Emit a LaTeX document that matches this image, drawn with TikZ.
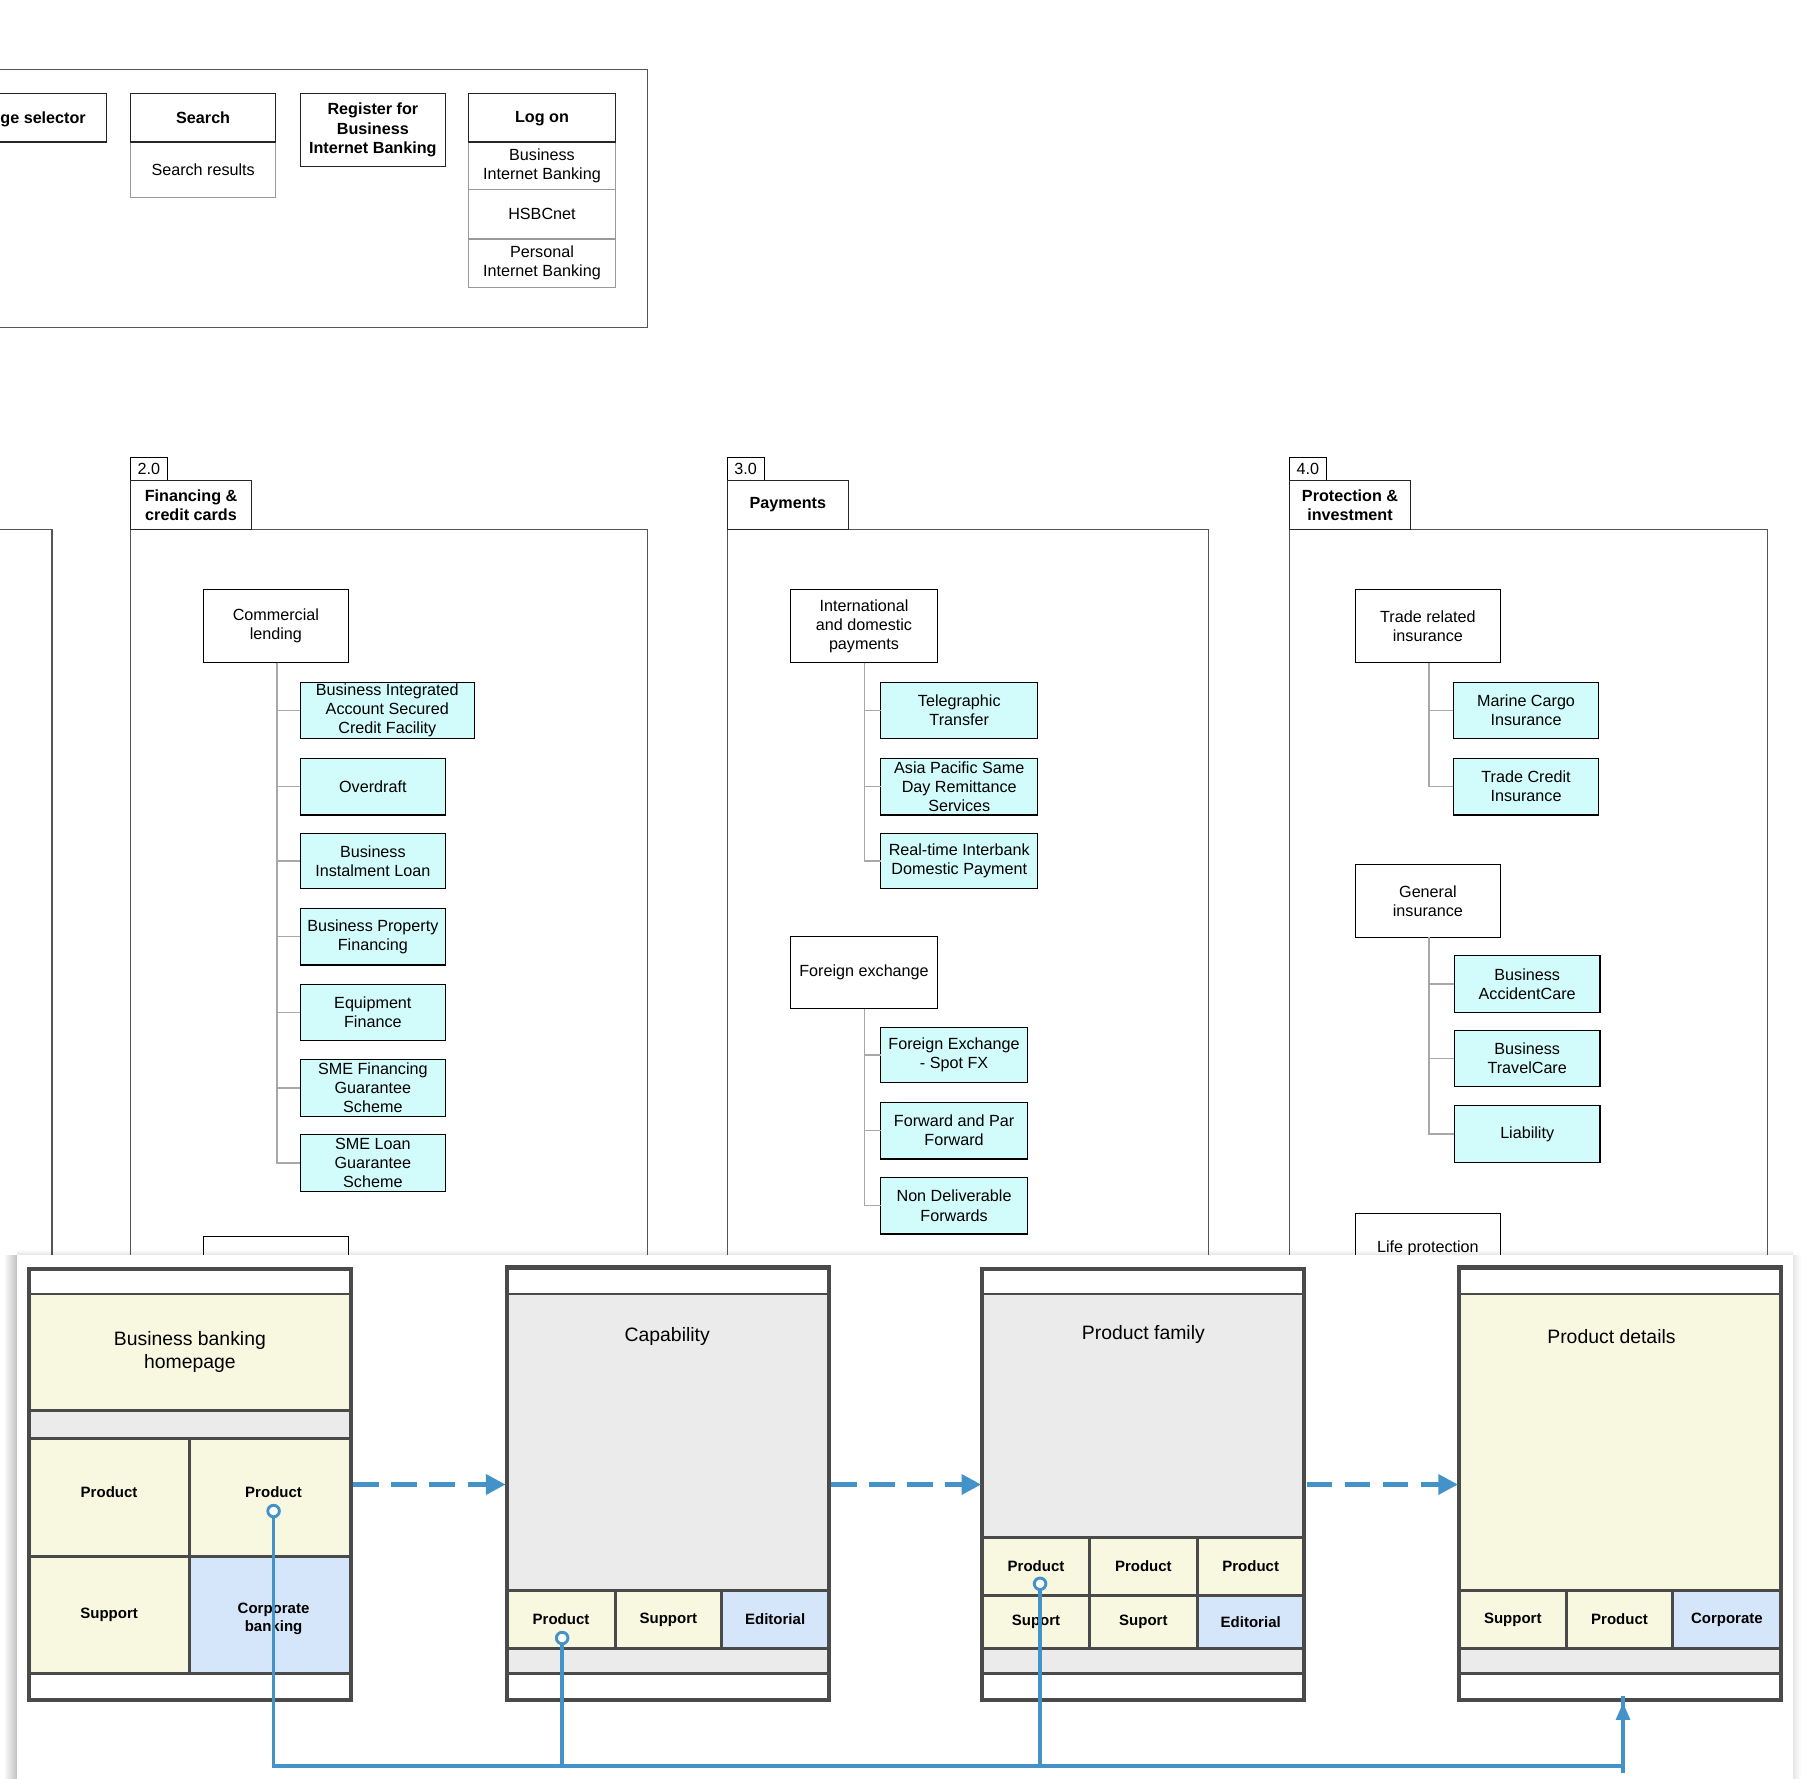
\documentclass[tikz,border=0pt]{standalone}
\usepackage{fontspec}
\setmainfont{Liberation Sans}
\usetikzlibrary{fit,arrows.meta,fadings}
\definecolor{cyanfill}{HTML}{D2FBFB}
\definecolor{yel}{HTML}{F8F8E0}
\definecolor{grayband}{HTML}{EBEBEB}
\definecolor{bluecell}{HTML}{D6E6FA}
\definecolor{connblue}{HTML}{4393C8}
\definecolor{bord}{HTML}{4A4A4A}
\definecolor{treegray}{HTML}{A8A8A8}
\definecolor{framegray}{HTML}{555555}
% name, x1, y1, x2, y2, box style, text style, text
\newcommand\mybox[8]{\node[#6, fit={(#2,#3) (#4,#5)}] (#1) {};
  \node[txt, #7] (#1t) at (#1.center) {#8};}
\begin{document}
\begin{tikzpicture}[x=1pt,y=-1pt,
 every node/.style={font=\fontsize{14}{16.5}\selectfont, text=black},
 txt/.style={inner sep=0pt, outer sep=0pt, align=center},
 fitbox/.style={inner sep=0pt, outer sep=0pt},
 tbox/.style={fitbox, draw=black, line width=1pt, fill=white},
 cbox/.style={fitbox, draw=black, line width=1pt, fill=cyanfill},
 hdr/.style={fitbox, draw=black!85, line width=1pt, fill=white},
 bold/.style={font=\fontsize{14}{16.5}\selectfont\bfseries},
 norm/.style={},
 subcell/.style={fitbox, draw=black!40, line width=1pt, fill=white},
 secframe/.style={draw=framegray, line width=1.1pt},
 treeline/.style={draw=treegray, line width=1.2pt},
 pcell/.style={fitbox, draw=bord, line width=2.5pt},
 pagebox/.style={fitbox, draw=bord, line width=3.5pt},
 lbl/.style={font=\fontsize{13}{15.5}\selectfont\bfseries},
 big/.style={font=\fontsize{16.8}{20}\selectfont},
 darrow/.style={draw=connblue, line width=4pt, dash pattern=on 22pt off 11pt, -{Triangle[length=17pt,width=17pt]}},
 conn/.style={draw=connblue, line width=3pt},
 ring/.style={circle, draw=connblue, line width=2.5pt, fill=white, minimum size=10pt, inner sep=0pt},
]
\useasboundingbox (0,0) rectangle (1568,1540.3);
\fill[white] (0,0) rectangle (1568,1540.3);

% ---------- top frame ----------
\draw[secframe] (-5,60) -- (561,60) -- (561,284) -- (-5,284);
\node[hdr, fit={(-20,81) (92,123)}] (lang) {};
\node[anchor=base east, inner sep=0pt, bold] (langt) at (74.5,107) {ge selector};
\mybox{sres}{113}{123}{239}{171}{subcell}{norm}{Search results}
\mybox{search}{113}{81}{239}{123}{hdr}{bold}{Search}
\mybox{reg}{260}{81}{386}{144}{hdr}{bold}{Register for\\Business\\Internet Banking}
\mybox{bib}{406}{123}{533}{164}{subcell}{norm}{Business\\Internet Banking}
\mybox{hsbc}{406}{164}{533}{207}{subcell}{norm}{HSBCnet}
\mybox{pib}{406}{207}{533}{249}{subcell}{norm}{Personal\\Internet Banking}
\mybox{logon}{406}{81}{533}{123}{hdr}{bold, yshift=-1pt}{Log on}

% ---------- section frames ----------
\draw[secframe] (-5,459) -- (45,459) -- (45,1100);
\draw[secframe] (113,1100) -- (113,459) -- (561,459) -- (561,1100);
\draw[secframe] (630,1100) -- (630,459) -- (1047,459) -- (1047,1100);
\draw[secframe] (1117,1100) -- (1117,459) -- (1531,459) -- (1531,1100);

\mybox{t2}{113}{396}{145}{416}{tbox}{norm}{2.0}
\mybox{h2}{113}{416}{218}{459}{hdr}{bold}{Financing \&\\credit cards}
\mybox{t3}{630}{396}{662}{416}{tbox}{norm}{3.0}
\mybox{h3}{630}{416}{735}{459}{hdr}{bold}{Payments}
\mybox{t4}{1117}{396}{1149}{416}{tbox}{norm}{4.0}
\mybox{h4}{1117}{416}{1222}{459}{hdr}{bold}{Protection \&\\investment}

% ---------- 2.0 tree ----------
\mybox{cl}{176}{511}{302}{574}{tbox}{norm}{Commercial\\lending}
\mybox{a1}{260}{591}{411}{640}{cbox}{norm}{Business Integrated\\Account Secured\\Credit Facility}
\mybox{a2}{260}{657}{386}{706}{cbox}{norm}{Overdraft}
\mybox{a3}{260}{722}{386}{770}{cbox}{norm}{Business\\Instalment Loan}
\mybox{a4}{260}{787}{386}{836}{cbox}{norm}{Business Property\\Financing}
\mybox{a5}{260}{853}{386}{901}{cbox}{norm}{Equipment\\Finance}
\mybox{a6}{260}{918}{386}{967}{cbox}{norm}{SME Financing\\Guarantee\\Scheme}
\mybox{a7}{260}{983}{386}{1032}{cbox}{norm}{SME Loan\\Guarantee\\Scheme}
\foreach \c in {a1,a2,a3,a4,a5,a6,a7} \draw[treeline] ([xshift=1pt]cl.south) |- (\c.west);
\node[tbox, fit={(176,1071) (302,1134)}] (cl2) {};

% ---------- 3.0 tree ----------
\mybox{idp}{685}{511}{812}{574}{tbox}{norm}{International\\and domestic\\payments}
\mybox{b1}{763}{591}{899}{640}{cbox}{norm}{Telegraphic\\Transfer}
\mybox{b2}{763}{657}{899}{706}{cbox}{norm}{Asia Pacific Same\\Day Remittance\\Services}
\mybox{b3}{763}{722}{899}{770}{cbox}{norm}{Real-time Interbank\\Domestic Payment}
\foreach \c in {b1,b2,b3} \draw[treeline] ([xshift=0.5pt]idp.south) |- (\c.west);
\mybox{fx}{685}{811}{812}{874}{tbox}{norm}{Foreign exchange}
\mybox{d1}{763}{890}{890}{938}{cbox}{norm}{Foreign Exchange\\- Spot FX}
\mybox{d2}{763}{955}{890}{1004}{cbox}{norm}{Forward and Par\\Forward}
\mybox{d3}{763}{1020}{890}{1069}{cbox}{norm}{Non Deliverable\\Forwards}
\foreach \c in {d1,d2,d3} \draw[treeline] ([xshift=0.5pt]fx.south) |- (\c.west);

% ---------- 4.0 tree ----------
\mybox{tri}{1174}{511}{1300}{574}{tbox}{norm}{Trade related\\insurance}
\mybox{e1}{1259}{591}{1385}{640}{cbox}{norm}{Marine Cargo\\Insurance}
\mybox{e2}{1259}{657}{1385}{706}{cbox}{norm}{Trade Credit\\Insurance}
\foreach \c in {e1,e2} \draw[treeline] ([xshift=1pt]tri.south) |- (\c.west);
\mybox{gi}{1174}{749}{1300}{812}{tbox}{norm}{General\\insurance}
\mybox{f1}{1260}{828}{1386}{877}{cbox}{norm}{Business\\AccidentCare}
\mybox{f2}{1260}{893}{1386}{941}{cbox}{norm}{Business\\TravelCare}
\mybox{f3}{1260}{958}{1386}{1007}{cbox}{norm}{Liability}
\foreach \c in {f1,f2,f3} \draw[treeline] ([xshift=1pt]gi.south) |- (\c.west);
\mybox{lp}{1174}{1051}{1300}{1112}{tbox}{norm}{Life protection}

% ---------- overlay panel ----------
\fill[black, opacity=0.25, path fading=west] (3,1087) rectangle (15,1545);
\fill[black, opacity=0.10, path fading=north] (15,1082) rectangle (1553,1087);
\fill[black, opacity=0.10, path fading=east] (1553,1087) rectangle (1560,1545);
\fill[white] (15,1087) rectangle (1553,1545);

% page 1
\mybox{p1a}{25}{1099}{304}{1121}{pcell, fill=white}{norm}{}
\mybox{p1b}{25}{1121}{304}{1222}{pcell, fill=yel}{big}{Business banking\\homepage}
\mybox{p1c}{25}{1222}{304}{1246}{pcell, fill=grayband}{norm}{}
\mybox{p1d}{25}{1246}{164}{1348}{pcell, fill=yel}{lbl, yshift=4pt}{Product}
\mybox{p1e}{164}{1246}{304}{1348}{pcell, fill=yel}{lbl, yshift=4pt, xshift=3pt}{Product}
\mybox{p1f}{25}{1348}{164}{1450}{pcell, fill=yel}{lbl}{Support}
\mybox{p1g}{164}{1348}{304}{1450}{pcell, fill=bluecell}{lbl, yshift=-3pt, xshift=3pt}{Corporate\\banking}
\mybox{p1h}{25}{1450}{304}{1473}{pcell, fill=white}{norm}{}
\node[pagebox, fit={(25,1099) (304,1473)}] (p1) {};

% page 2
\mybox{p2a}{439}{1098}{718}{1121}{pcell, fill=white}{norm}{}
\mybox{p2b}{439}{1121}{718}{1378}{pcell, fill=grayband}{norm}{}
\node[big] (p2t) at (578,1158) {Capability};
\mybox{p2c}{439}{1378}{533}{1428}{pcell, fill=yel}{lbl}{Product}
\mybox{p2d}{533}{1378}{625}{1428}{pcell, fill=yel}{lbl}{Support}
\mybox{p2e}{625}{1378}{718}{1428}{pcell, fill=bluecell}{lbl}{Editorial}
\mybox{p2f}{439}{1428}{718}{1450}{pcell, fill=grayband}{norm}{}
\mybox{p2g}{439}{1450}{718}{1473}{pcell, fill=white}{norm}{}
\node[pagebox, fit={(439,1098) (718,1473)}] (p2) {};

% page 3
\mybox{p3a}{851}{1099}{1130}{1121}{pcell, fill=white}{norm}{}
\mybox{p3b}{851}{1121}{1130}{1332}{pcell, fill=grayband}{norm}{}
\node[big] (p3t) at (990.5,1156) {Product family};
\mybox{p3c}{851}{1332}{944}{1382}{pcell, fill=yel}{lbl}{Product}
\mybox{p3d}{944}{1332}{1037}{1382}{pcell, fill=yel}{lbl}{Product}
\mybox{p3e}{1037}{1332}{1130}{1382}{pcell, fill=yel}{lbl}{Product}
\mybox{p3f}{851}{1382}{944}{1428}{pcell, fill=yel}{lbl}{Suport}
\mybox{p3g}{944}{1382}{1037}{1428}{pcell, fill=yel}{lbl}{Suport}
\mybox{p3h}{1037}{1382}{1130}{1428}{pcell, fill=bluecell}{lbl}{Editorial}
\mybox{p3i}{851}{1428}{1130}{1450}{pcell, fill=grayband}{norm}{}
\mybox{p3j}{851}{1450}{1130}{1473}{pcell, fill=white}{norm}{}
\node[pagebox, fit={(851,1099) (1130,1473)}] (p3) {};

% page 4
\mybox{p4a}{1264}{1098}{1543}{1121}{pcell, fill=white}{norm}{}
\mybox{p4b}{1264}{1121}{1543}{1378}{pcell, fill=yel}{norm}{}
\node[big] (p4t) at (1396,1158) {Product details};
\mybox{p4c}{1264}{1378}{1357}{1428}{pcell, fill=yel}{lbl}{Support}
\mybox{p4d}{1357}{1378}{1449}{1428}{pcell, fill=yel}{lbl}{Product}
\mybox{p4e}{1449}{1378}{1543}{1428}{pcell, fill=bluecell}{lbl}{Corporate}
\mybox{p4f}{1264}{1428}{1543}{1450}{pcell, fill=grayband}{norm}{}
\mybox{p4g}{1264}{1450}{1543}{1473}{pcell, fill=white}{norm}{}
\node[pagebox, fit={(1264,1098) (1543,1473)}] (p4) {};

% dashed flow arrows
\coordinate (fl) at (0,1286);
\draw[darrow] ([xshift=2pt]p1.east |- fl) -- ([xshift=-1pt]p2.west |- fl);
\draw[darrow] ([xshift=2pt]p2.east |- fl) -- ([xshift=-1pt]p3.west |- fl);
\draw[darrow] ([xshift=2pt]p3.east |- fl) -- ([xshift=-1pt]p4.west |- fl);

% blue connectors
\coordinate (c1) at (237,1309);
\coordinate (c2) at (487,1419);
\coordinate (c3) at (901,1372);
\coordinate (busend) at (1406,1530);
\coordinate (tgt) at (1406,1475);
\draw[conn, line join=miter] (c1) |- (busend) -- ([yshift=6pt]tgt);
\draw[conn, -{Triangle[length=15pt,width=12pt]}] ([yshift=-6pt]busend) -- (tgt);
\draw[conn] (c2) -- (c2 |- busend);
\draw[conn] (c3) -- (c3 |- busend);
\node[ring] (r1) at (c1) {};
\node[ring] (r2) at (c2) {};
\node[ring] (r3) at (c3) {};
\end{tikzpicture}
\end{document}
